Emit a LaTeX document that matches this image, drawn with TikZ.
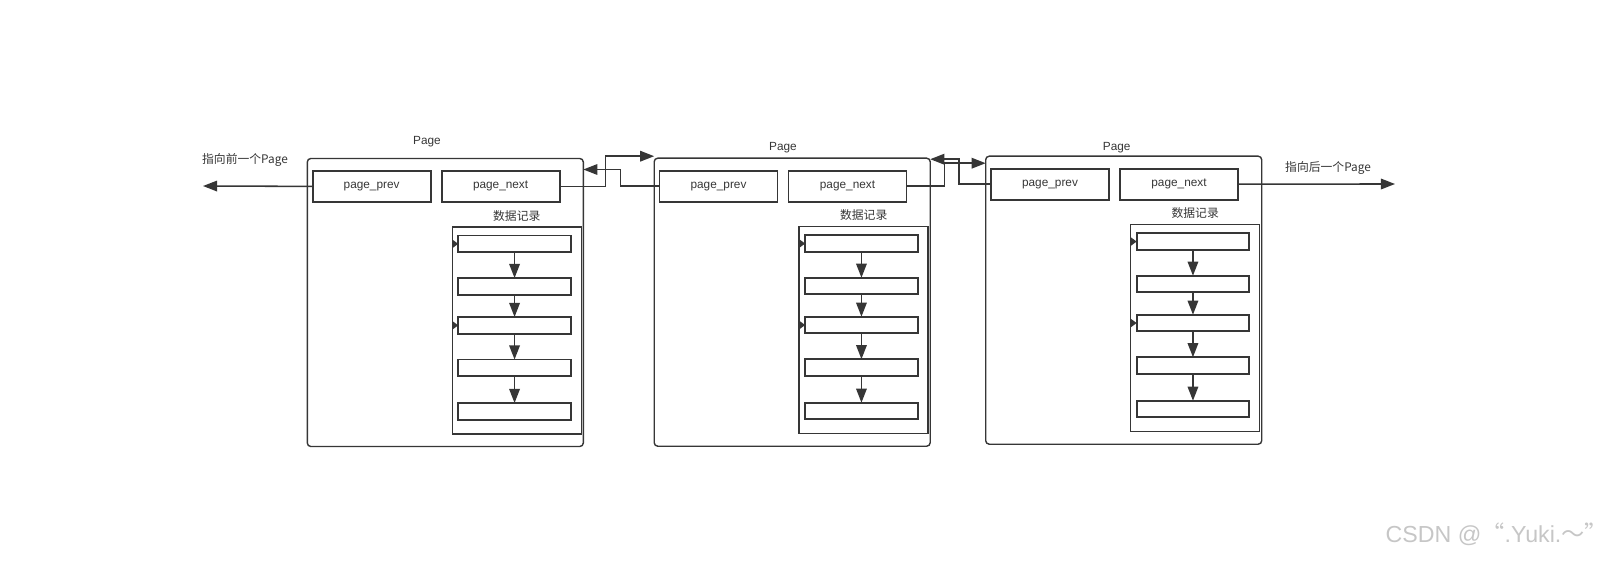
\documentclass[tikz,border=0pt]{standalone}
\usepackage{fontspec}
\setmainfont{Liberation Sans}
\newfontfamily\cjk{Noto Sans CJK SC}
\usetikzlibrary{arrows.meta, calc, positioning}
\definecolor{ink}{HTML}{363636}
\definecolor{wm}{HTML}{C6C6C6}
\newcommand{\px}{0.025cm}

\begin{document}
\begin{tikzpicture}[
    x=\px, y=-\px,
    font=\fontsize{8.4}{10}\selectfont,
    text=ink,
    link/.style={
      draw=ink,
      line width=1.1pt,
      -{Triangle[length=10pt,width=7.5pt]},
    },
    nub/.style={
      draw=ink,
      line width=1pt,
      -{Triangle[length=4pt,width=5.5pt]},
    },
    pagebox/.style={
      draw=ink,
      line width=1pt,
      rounded corners=2.5pt,
      minimum width=276*\px,
      minimum height=288*\px,
      inner sep=0pt,
      outer sep=0pt,
    },
    ptrbox/.style={
      draw=ink,
      line width=1.4pt,
      minimum width=118*\px,
      minimum height=31*\px,
      inner sep=0pt,
      outer sep=0pt,
    },
    grpbox/.style={
      draw=ink,
      line width=1.1pt,
      minimum width=129*\px,
      minimum height=207*\px,
      inner sep=0pt,
      outer sep=0pt,
    },
    recbox/.style={
      draw=ink,
      line width=1.4pt,
      minimum width=112.5*\px,
      minimum height=16.7*\px,
      inner sep=0pt,
      outer sep=0pt,
    },
  ]

  \useasboundingbox (0,0) rectangle (1624,565);

  % Pages
  \node[pagebox] (pg1) at (445.3,302.5) {};
  \node[pagebox] (pg2) at (792.2,302.2) {};
  \node[pagebox] (pg3) at (1123.7,300.2) {};

  \node (title1) at (427,142) {Page};
  \node (title2) at (783,147.7) {Page};
  \node (title3) at (1116.7,147.3) {Page};

  % Pointers and records inside each page
  \foreach \n in {1,2,3} {
    \node[ptrbox, anchor=north west] (prev\n) at ($(pg\n.north west)+(5.3,12.4)$) {page\_prev};
    \node[ptrbox, anchor=north west] (next\n) at ($(pg\n.north west)+(134.3,12.4)$) {page\_next};
    \node[grpbox, anchor=north west] (grp\n) at ($(pg\n.north west)+(145,68.4)$) {};
    \node[above=0.02cm of grp\n] (tag\n) {\cjk 数据记录};
    \foreach \i/\dy in {1/77,2/119.5,3/158.5,4/201,5/244.5} {
      \node[recbox, anchor=north west] (rec\n\i) at ($(pg\n.north west)+(151,\dy)$) {};
    }
    \foreach \i/\j in {1/2,2/3,3/4,4/5} {
      \draw[link] (rec\n\i) -- (rec\n\j);
    }
    \draw[nub] (grp\n.west |- rec\n1.west) -- (rec\n1.west);
    \draw[nub] (grp\n.west |- rec\n3.west) -- (rec\n3.west);
  }

  % Links between pages
  \draw[link] (next1.east) -- ++(46,0) |- ($(pg2.north west)+(0,-2)$);
  \draw[link] (prev2.west) -- ++(-39,0) |- ($(pg1.north east)+(0,11)$);
  \draw[link] (next2.east) -- ++(38,0) |- ($(pg3.north west)+(0,7)$);
  \draw[link] (prev3.west) -- ++(-32,0) |- ($(pg2.north east)+(0,1)$);

  % Outer ends
  \coordinate (prevend) at (203,186);
  \coordinate (nextend) at (1395,184);
  \draw[link] (prev1.west) -- (prevend);
  \draw[link] (next3.east) -- (nextend);
  \node (prevtxt) at (245,160) {\cjk 指向前一个Page};
  \node (nexttxt) at (1328,168.3) {\cjk 指向后一个Page};

  % Watermark
  \node[text=wm, font=\fontsize{16.5}{19}\selectfont] (mark) at (1496.7,534.7) {CSDN @{\cjk “}.Yuki.{\cjk ～”}};

\end{tikzpicture}
\end{document}
